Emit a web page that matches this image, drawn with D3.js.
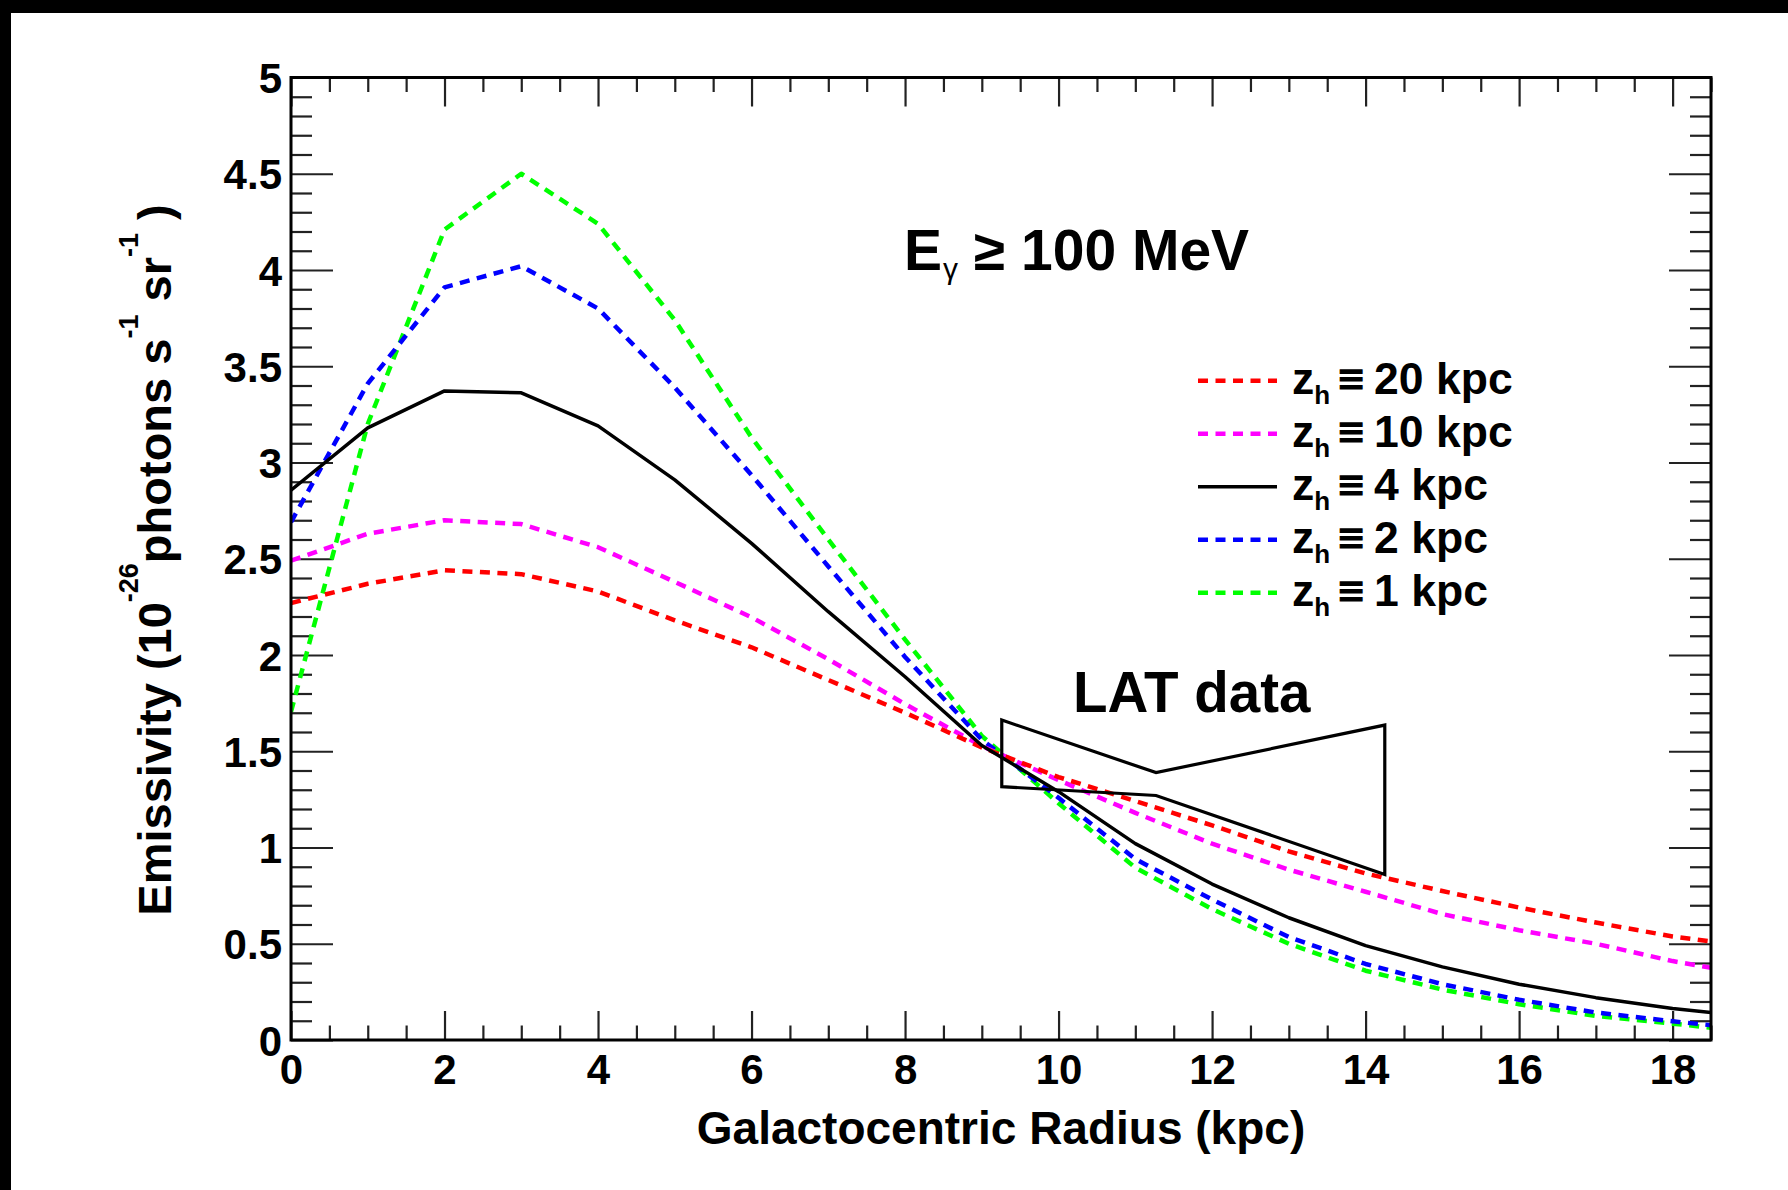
<!DOCTYPE html>
<html>
<head>
<meta charset="utf-8">
<script src="https://cdn.jsdelivr.net/npm/d3@7"></script>
<style>
  body { margin: 0; background: #fff; }
  svg { display: block; }
  text { font-family: "Liberation Sans", Arial, Helvetica, sans-serif; font-weight: bold; fill: #000; }
</style>
</head>
<body>
<svg id="chart" width="1788" height="1190"></svg>
<script>
// ---------------- data ----------------
const radius   = [0, 1, 2, 3, 4, 5, 6, 7, 8, 9, 10, 11, 12, 13, 14, 15, 16, 17, 18, 18.5];
const emisZh20 = [2.27, 2.37, 2.44, 2.42, 2.33, 2.18, 2.04, 1.87, 1.70, 1.52, 1.366, 1.241, 1.115, 0.98, 0.865, 0.774, 0.688, 0.61, 0.538, 0.512];
const emisZh10 = [2.49, 2.63, 2.70, 2.68, 2.56, 2.38, 2.196, 1.978, 1.745, 1.527, 1.35, 1.18, 1.02, 0.885, 0.77, 0.654, 0.57, 0.50, 0.41, 0.375];
const emisZh4  = [2.856, 3.18, 3.372, 3.362, 3.19, 2.91, 2.58, 2.225, 1.887, 1.53, 1.29, 1.02, 0.81, 0.635, 0.49, 0.38, 0.29, 0.22, 0.164, 0.143];
const emisZh2  = [2.69, 3.41, 3.91, 4.02, 3.80, 3.39, 2.935, 2.46, 1.99, 1.56, 1.258, 0.94, 0.73, 0.535, 0.395, 0.29, 0.209, 0.143, 0.097, 0.077];
const emisZh1  = [1.705, 3.2, 4.21, 4.50, 4.24, 3.74, 3.13, 2.60, 2.08, 1.58, 1.23, 0.895, 0.68, 0.50, 0.36, 0.262, 0.186, 0.125, 0.085, 0.064];

const seriesNames   = ["20", "10", "4", "2", "1"];          // z_h in kpc (legend order)
const seriesValues  = [emisZh20, emisZh10, emisZh4, emisZh2, emisZh1];
const seriesColors  = ["#ff0000", "#ff00ff", "#000000", "#0000ff", "#00ff00"];
const seriesDashed  = [true, true, false, true, true];

// LAT data butterfly (radius, emissivity) vertices
const latR = [9.26, 11.27, 14.25, 14.25, 11.27, 9.26];
const latE = [1.662, 1.389, 1.636, 0.86, 1.27, 1.316];

const xMajorTicks = [0, 2, 4, 6, 8, 10, 12, 14, 16, 18];
const xTickLabels = ["0", "2", "4", "6", "8", "10", "12", "14", "16", "18"];
const yMajorTicks = [0, 0.5, 1, 1.5, 2, 2.5, 3, 3.5, 4, 4.5, 5];
const yTickLabels = ["0", "0.5", "1", "1.5", "2", "2.5", "3", "3.5", "4", "4.5", "5"];

// ---------------- layout ----------------
const W = 1788, H = 1190;
const L = 291, R = 1711, T = 77.5, B = 1040;
const x = d3.scaleLinear().domain([0, 18.5]).range([L, R]);
const y = d3.scaleLinear().domain([0, 5]).range([B, T]);

const svg = d3.select("#chart");
svg.append("rect").attr("width", W).attr("height", H).attr("fill", "#fff");
svg.append("rect").attr("x", 0).attr("y", 0).attr("width", W).attr("height", 13).attr("fill", "#000");
svg.append("rect").attr("x", 0).attr("y", 0).attr("width", 11).attr("height", H).attr("fill", "#000");

const xMinor = d3.range(0, 18.5001, 0.5).filter(v => v % 2 !== 0);
const yMinor = d3.range(0, 50.001, 1).map(v => v / 10).filter(v => Math.round(v * 10) % 5 !== 0);

function styleAxis(g, fs) {
  g.select(".domain").remove();
  g.attr("font-family", null).attr("font-size", fs).attr("fill", null);
  g.selectAll("line").attr("stroke", "#222").attr("stroke-width", 2.2);
  g.selectAll("text").attr("fill", "#000");
}

// bottom
svg.append("g").attr("transform", `translate(0,${B})`)
  .call(d3.axisBottom(x).tickValues(xMajorTicks).tickSizeInner(-29).tickSizeOuter(0).tickPadding(14.5)
    .tickFormat((d, i) => xTickLabels[i]))
  .call(g => styleAxis(g, 42));
svg.append("g").attr("transform", `translate(0,${B})`)
  .call(d3.axisBottom(x).tickValues(xMinor).tickSizeInner(-14.5).tickSizeOuter(0).tickFormat(""))
  .call(g => styleAxis(g, 42));
// top
svg.append("g").attr("transform", `translate(0,${T})`)
  .call(d3.axisTop(x).tickValues(xMajorTicks).tickSizeInner(-29).tickSizeOuter(0).tickFormat(""))
  .call(g => styleAxis(g, 42));
svg.append("g").attr("transform", `translate(0,${T})`)
  .call(d3.axisTop(x).tickValues(xMinor).tickSizeInner(-14.5).tickSizeOuter(0).tickFormat(""))
  .call(g => styleAxis(g, 42));
// left
svg.append("g").attr("transform", `translate(${L},0)`)
  .call(d3.axisLeft(y).tickValues(yMajorTicks).tickSizeInner(-42).tickSizeOuter(0).tickPadding(9)
    .tickFormat((d, i) => yTickLabels[i]))
  .call(g => styleAxis(g, 42))
  .call(g => g.selectAll("text").attr("dy", "0.36em"));
svg.append("g").attr("transform", `translate(${L},0)`)
  .call(d3.axisLeft(y).tickValues(yMinor).tickSizeInner(-21).tickSizeOuter(0).tickFormat(""))
  .call(g => styleAxis(g, 42));
// right
svg.append("g").attr("transform", `translate(${R},0)`)
  .call(d3.axisRight(y).tickValues(yMajorTicks).tickSizeInner(-42).tickSizeOuter(0).tickFormat(""))
  .call(g => styleAxis(g, 42));
svg.append("g").attr("transform", `translate(${R},0)`)
  .call(d3.axisRight(y).tickValues(yMinor).tickSizeInner(-21).tickSizeOuter(0).tickFormat(""))
  .call(g => styleAxis(g, 42));

// clip
svg.append("clipPath").attr("id", "plotclip")
  .append("rect").attr("x", L).attr("y", T).attr("width", R - L).attr("height", B - T);

const line = d3.line().x(d => x(d[0])).y(d => y(d[1]));
const curves = svg.append("g").attr("clip-path", "url(#plotclip)");
[4, 3, 1, 0, 2].forEach(k => {
  const pts = radius.map((r, i) => [r, seriesValues[k][i]]);
  curves.append("path")
    .attr("d", line(pts))
    .attr("fill", "none")
    .attr("stroke", seriesColors[k])
    .attr("stroke-width", seriesDashed[k] ? 4.5 : 3.5)
    .attr("stroke-dasharray", seriesDashed[k] ? "10,7.5" : null)
    .attr("stroke-linejoin", "round");
});

// LAT butterfly
svg.append("path")
  .attr("d", line(latR.map((r, i) => [r, latE[i]])) + "Z")
  .attr("fill", "none").attr("stroke", "#000").attr("stroke-width", 3.2)
  .attr("stroke-linejoin", "miter");

// frame
svg.append("rect").attr("x", L).attr("y", T).attr("width", R - L).attr("height", B - T)
  .attr("fill", "none").attr("stroke", "#000").attr("stroke-width", 3);

// annotations
svg.append("text").attr("x", 1073).attr("y", 712).attr("font-size", 56.5).text("LAT data");

const eLab = svg.append("text").attr("x", 904).attr("y", 270).attr("font-size", 57);
eLab.append("tspan").text("E");
eLab.append("tspan").attr("font-size", 30).attr("dy", 9).attr("dx", 1).attr("font-weight", "normal").text("γ");
eLab.append("tspan").attr("dy", -9).attr("dx", 0).text(" ≥ 100 MeV");

// legend
const legY0 = 380.7, legDy = 53;
seriesNames.forEach((nm, i) => {
  const ly = legY0 + i * legDy;
  svg.append("line")
    .attr("x1", 1198).attr("x2", 1277).attr("y1", ly).attr("y2", ly)
    .attr("stroke", seriesColors[i])
    .attr("stroke-width", seriesDashed[i] ? 4.5 : 3.5)
    .attr("stroke-dasharray", seriesDashed[i] ? "10,7.5" : null);
  const t = svg.append("text").attr("x", 1292).attr("y", ly + 13.5).attr("font-size", 44.5);
  t.append("tspan").text("z");
  t.append("tspan").attr("font-size", 26).attr("dy", 10).text("h");
  t.append("tspan").attr("dy", -10).attr("dx", 8).attr("stroke", "#000").attr("stroke-width", 1.3).text("≡");
  t.append("tspan").attr("dx", 10).text(nm + " kpc");
});

// axis titles
svg.append("text").attr("x", (L + R) / 2).attr("y", 1144).attr("text-anchor", "middle")
  .attr("font-size", 46).text("Galactocentric Radius (kpc)");

const yt = svg.append("text").attr("transform", "translate(171,560) rotate(-90)")
  .attr("text-anchor", "middle").attr("font-size", 47);
yt.append("tspan").text("Emissivity (10");
yt.append("tspan").attr("font-size", 27).attr("dy", -33).text("-26");
yt.append("tspan").attr("dy", 33).text("photons s");
yt.append("tspan").attr("font-size", 27).attr("dy", -33).text("-1");
yt.append("tspan").attr("dy", 33).text(" sr");
yt.append("tspan").attr("font-size", 27).attr("dy", -33).text("-1");
yt.append("tspan").attr("dy", 33).text(" )");
</script>
</body>
</html>
